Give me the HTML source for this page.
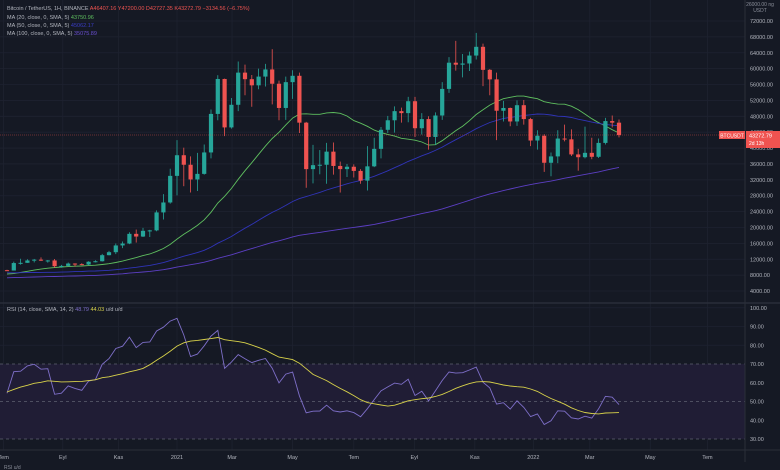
<!DOCTYPE html>
<html><head><meta charset="utf-8">
<style>
html,body{margin:0;padding:0;background:#151924;}
svg{display:block;font-family:"Liberation Sans",sans-serif;}
</style></head>
<body>
<svg id="chart" width="780" height="470" viewBox="0 0 780 470" xmlns="http://www.w3.org/2000/svg">
<rect x="0" y="0" width="780" height="470" fill="#151924"/>
<g id="grid"></g>
<rect x="0" y="364" width="745" height="75" fill="#201d35"/>
<g id="rsiLevels"></g>
<g id="mas"></g>
<g id="candles"></g>
<g id="rsi"></g>
<line x1="0" y1="135" x2="745" y2="135" stroke="#ef5350" stroke-width="0.6" stroke-dasharray="1,1" opacity="0.8"/>
<line x1="0" y1="303" x2="780" y2="303" stroke="#2a2e39" stroke-width="1.5"/>
<line x1="0" y1="450" x2="780" y2="450" stroke="#2a2e39" stroke-width="1"/>
<line x1="745" y1="0" x2="745" y2="462" stroke="#2a2e39" stroke-width="1"/>
<g id="yaxis"></g>
<g id="xaxis"></g>
<text x="760" y="6" font-size="5" fill="#8a8e99" text-anchor="middle">26000.00 ng</text>
<text x="760" y="12" font-size="5" fill="#8a8e99" text-anchor="middle">USDT</text>
<rect x="719" y="131" width="26" height="8" fill="#ef5350"/>
<text x="732" y="137.3" font-size="5" fill="#fff" text-anchor="middle">BTCUSDT</text>
<rect x="746" y="131" width="34" height="17" fill="#ef5350"/>
<text x="749" y="137.5" font-size="5.5" fill="#fff">43272.79</text>
<text x="749" y="145" font-size="5" fill="#fff">2d 13h</text>
<g font-size="5.5">
<text x="7" y="10" fill="#b2b5be">Bitcoin / TetherUS, 1H, BINANCE <tspan fill="#ef5350">A46407.16  Y47200.00  D42727.35  K43272.79  −3134.56 (−6.75%)</tspan></text>
<text x="7" y="19" fill="#b2b5be">MA (20, close, 0, SMA, 5) <tspan fill="#5fbf5f">43750.96</tspan></text>
<text x="7" y="27" fill="#b2b5be">MA (50, close, 0, SMA, 5) <tspan fill="#3a3dc4">45062.17</tspan></text>
<text x="7" y="35" fill="#b2b5be">MA (100, close, 0, SMA, 5) <tspan fill="#6a4fd0">35075.89</tspan></text>
<text x="7" y="311" fill="#b2b5be">RSI (14, close, SMA, 14, 2) <tspan fill="#7e6fc9">48.79</tspan> <tspan fill="#d8d24a">44.03</tspan> u/d  u/d</text>
</g>
<text x="4" y="469" font-size="5" fill="#8a8e99">RSI  u/d</text>
</svg>
<script>
const historyCloses=[6300,6400,6700,7000,6400,6500,6700,6600,6600,6300,6500,6400,6400,6400,6300,5600,3900,4000,3600,3200,4000,3900,4000,3500,3600,3500,3400,3600,3900,3800,3900,3900,4000,4000,5000,5100,5300,5200,5700,6300,7200,8000,8700,7800,8000,9300,10700,11800,11500,10200,10300,9500,11500,10300,10100,10300,10500,10300,10300,8000,8300,7800,8300,7500,9200,9200,8700,8500,7300,7400,7200,7100,7300,7200,7800,8200,8600,9300,9900,10300,9900,8600,8000,5300,6400,5900,6800,6900,7100,7700,8800,8800,9700,9200,9400,9700,9500,9300,9150,9100,9300];
const opens=[9250,9160,11050,11100,11700,11900,11650,11700,10250,10330,10920,10770,10660,11380,11500,13030,13780,15480,15960,18400,17720,19160,19270,23800,26300,33000,38200,35800,32100,33500,38900,48600,57400,45200,50900,59000,57350,55800,58000,59800,56200,50100,56600,58200,46400,34700,35700,35800,39100,35500,34700,35300,34250,31800,35400,39800,44600,47000,49300,48800,51800,45000,47300,42800,48200,54900,61500,61000,61300,63300,65500,59700,57300,49400,50100,46700,50800,47300,41900,43100,36300,37900,42400,42200,38400,37700,38800,37800,41300,46800,46400];
const highs=[9350,11400,12120,12000,12080,12480,11800,12080,10600,11180,10990,11000,11500,11740,13350,14100,15970,16480,18800,19480,19900,19420,24300,28400,34800,42000,40100,37900,38800,40900,49700,58350,57500,52600,61800,61000,58400,60000,61200,64900,57000,58000,59600,59000,46600,40800,39500,41300,41400,36600,36000,35900,34700,40500,42600,45300,48100,50500,50200,52900,52900,48800,48000,49000,56600,62900,67000,63700,64300,69000,66300,59900,59000,51900,50200,52000,52100,47600,44500,43500,38900,44500,45900,44700,39800,45400,42600,42400,47600,48200,47200];
const lows=[9050,9150,10650,11100,11200,11550,11150,9900,9860,10200,10130,10500,10530,11200,11420,12980,13300,14800,15800,16200,17600,17600,19050,22000,26000,28100,30400,28800,29200,33300,37400,47000,43000,44900,49300,53300,50400,54800,55500,51000,47000,47100,52400,43800,30000,31100,33400,31000,33300,28800,32700,32600,31000,29300,35200,37400,43800,43900,46400,46500,42800,43400,39600,40800,47100,53900,59500,57800,59400,62300,55600,53300,42000,46700,45500,45600,45900,40500,39600,34000,32900,36200,41700,38000,34300,37400,37200,37500,40900,45200,42700];
const closes=[9160,11050,11100,11700,11900,11650,11700,10250,10330,10920,10770,10660,11380,11500,13030,13780,15480,15960,18400,17720,19160,19270,23800,26300,33000,38200,35800,32100,33500,38900,48600,57400,45200,50900,59000,57350,55800,58000,59800,56200,50100,56600,58200,46400,34700,35700,35800,39100,35500,34700,35300,34250,31800,35400,39800,44600,47000,49300,48800,51800,45000,47300,42800,48200,54900,61500,61000,61300,63300,65500,59700,57300,49400,50100,46700,50800,47300,41900,43100,36300,37900,42400,42200,38400,37700,38800,37800,41300,46800,46400,43272];
const priceTicks=[72000,68000,64000,60000,56000,52000,48000,44000,40000,36000,32000,28000,24000,20000,16000,12000,8000,4000];
const rsiTicks=[100,90,80,70,60,50,40,30];
const timeLabels=["Tem","Eyl","Kas","2021","Mar","May","Tem","Eyl","Kas","2022","Mar","May","Tem"];
const timeLabelWeeks=[-0.5,8.2,16.4,25,33.1,42,51,59.9,68.8,77.4,85.7,94.6,103];
const maPeriods=[20,50,100];
const maColors=["#5fbf5f","#3034b8","#5c3fc4"];

const NS="http://www.w3.org/2000/svg";
function mk(tag,attrs,parent){const e=document.createElementNS(NS,tag);for(const k in attrs)e.setAttribute(k,attrs[k]);parent.appendChild(e);return e;}
const xs=i=>7+i*6.8;
const py=p=>21+(72000-p)*0.003971;
const ry=v=>364-(v-70)*1.875;

const grid=document.getElementById('grid');
const yaxis=document.getElementById('yaxis');
priceTicks.forEach(t=>{
  const l=mk('line',{x1:0,x2:745,y1:py(t),y2:py(t),stroke:'#1e2230','stroke-width':0.8},grid);
  
  
  const tx=mk('text',{x:750,y:py(t)+2,'font-size':5.5,fill:'#b2b5be'},yaxis);
  tx.textContent=t.toFixed(2);
  
  
});
rsiTicks.forEach(t=>{
  if(t!==70&&t!==30&&t!==50){
    const l=mk('line',{x1:0,x2:745,y1:ry(t),y2:ry(t),stroke:'#1e2230','stroke-width':0.8},grid);
    
    
  }
  const tx=mk('text',{x:750,y:ry(t)+2,'font-size':5.5,fill:'#b2b5be'},yaxis);
  tx.textContent=t.toFixed(2);
  
  
});
const xaxis=document.getElementById('xaxis');
timeLabels.forEach((lab,k)=>{
  const x=xs(timeLabelWeeks[k]);
  const l=mk('line',{x1:x,x2:x,y1:0,y2:450,stroke:'#1e2230','stroke-width':0.8},grid);
  
  
  const tx=mk('text',{x:x,y:459,'font-size':5.5,fill:'#b2b5be','text-anchor':'middle'},xaxis);
  tx.textContent=lab;
  
  
});
const lv=document.getElementById('rsiLevels');
[70,50,30].forEach(v=>{
  const l=mk('line',{x1:0,x2:745,y1:ry(v),y2:ry(v),stroke:'#5d6070','stroke-width':0.7,'stroke-dasharray':'3,3'},lv);
  
  
});

const all=historyCloses.concat(closes);
const H=historyCloses.length;
const mas=document.getElementById('mas');
maPeriods.forEach((n,k)=>{
  let d='';
  for(let i=0;i<closes.length;i++){
    const g=H+i; if(g<n-1) continue;
    let s=0; for(let j=g-n+1;j<=g;j++) s+=all[j];
    d+=(d?'L':'M')+xs(i).toFixed(1)+','+py(s/n).toFixed(1);
  }
  const p=mk('path',{d:d,fill:'none',stroke:maColors[k],'stroke-width':0.9},mas);
  
  
});

const cg=document.getElementById('candles');
for(let i=0;i<closes.length;i++){
  const up=closes[i]>=opens[i];
  const col=up?'#26a69a':'#ef5350';
  const x=xs(i);
  const w=mk('line',{x1:x,x2:x,y1:py(highs[i]),y2:py(lows[i]),stroke:col,'stroke-width':0.8},cg);
  
  
  const t=py(Math.max(opens[i],closes[i])),b=py(Math.min(opens[i],closes[i]));
  const r=mk('rect',{x:x-2.1,y:t,width:4.2,height:Math.max(1,b-t),fill:col},cg);
  
  
}

// RSI (Wilder) and its SMA14
const rsiAll=[];let ag=0,al=0;
for(let g=1;g<all.length;g++){
  const ch=all[g]-all[g-1],gn=Math.max(ch,0),ls=Math.max(-ch,0);
  if(g<=14){ag+=gn/14;al+=ls/14;if(g<14){rsiAll[g]=null;continue;}}
  else{ag=(ag*13+gn)/14;al=(al*13+ls)/14;}
  rsiAll[g]=al===0?100:100-100/(1+ag/al);
}
const rg=document.getElementById('rsi');
let d1='',d2='';
for(let i=0;i<closes.length;i++){
  const g=H+i;
  d1+=(d1?'L':'M')+xs(i).toFixed(1)+','+ry(rsiAll[g]).toFixed(1);
  let s=0;for(let j=g-13;j<=g;j++)s+=rsiAll[j];
  d2+=(d2?'L':'M')+xs(i).toFixed(1)+','+ry(s/14).toFixed(1);
}
const p1=mk('path',{d:d1,fill:'none',stroke:'#7e6fc9','stroke-width':0.9},rg);


const p2=mk('path',{d:d2,fill:'none',stroke:'#d8d24a','stroke-width':0.9},rg);


</script>
</body></html>
